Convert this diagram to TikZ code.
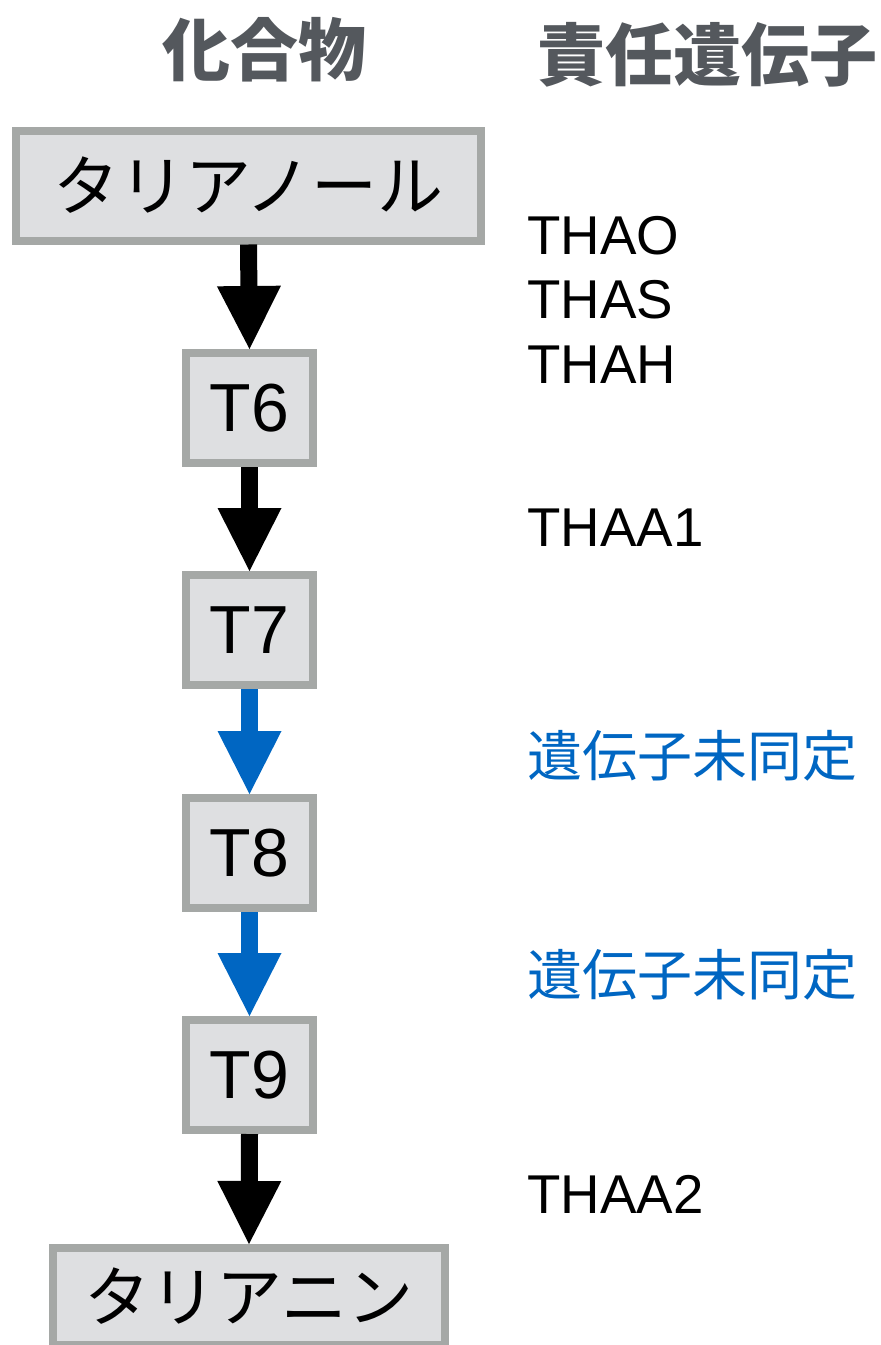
\documentclass[tikz,border=0pt]{standalone}
\usepackage{fontspec}
\setmainfont{Liberation Sans}
\newfontfamily\jp{Noto Sans CJK JP}
\usetikzlibrary{arrows.meta}
\definecolor{boxborder}{HTML}{A5A8A6}
\definecolor{boxfill}{HTML}{DEDFE1}
\definecolor{genblue}{HTML}{0066C2}
\definecolor{headgray}{HTML}{54585D}
\tikzset{
  compound/.style={draw=boxborder, fill=boxfill, line width=6pt, inner sep=0pt,
    minimum width=95.25pt, minimum height=82.5pt, font=\fontsize{51pt}{51pt}\selectfont},
  kanabox/.style={compound, font=\jp\fontsize{49.5pt}{49.5pt}\selectfont},
  header/.style={font=\jp\bfseries\fontsize{51pt}{51pt}\selectfont, text=headgray, inner sep=0pt},
  gene/.style={font=\fontsize{41pt}{41pt}\selectfont, anchor=base west, inner sep=0pt},
  unknown/.style={font=\jp\fontsize{41.25pt}{41.25pt}\selectfont, text=genblue, anchor=west, inner sep=0pt},
  known/.style={-{Triangle[width=48pt,length=47.25pt,line width=0pt]}, line width=12.75pt, draw=black},
  unknownarrow/.style={known, draw=genblue, color=genblue},
}
\begin{document}
\begin{tikzpicture}[x=0.75pt,y=-0.75pt]
\useasboundingbox (0,0) rectangle (881,1345);
% headers
\node[header] (hc) at (264,50) {化合物};
\node[header] (hg) at (707.5,55) {責任遺伝子};
% compounds
\node[kanabox, minimum width=348.75pt] (c0) at (248.5,185.5) {タリアノール};
\node[compound] (c1) at (249.5,408) {T6};
\node[compound] (c2) at (249.5,630) {T7};
\node[compound] (c3) at (249.5,853) {T8};
\node[compound] (c4) at (249.5,1075) {T9};
\node[kanabox, minimum width=294pt, minimum height=72.75pt] (c5) at (249,1296.5) {タリアニン};
% arrows
\draw[known] (c0.south) -- (c1.north);
\draw[known] (c1.south) -- (c2.north);
\draw[unknownarrow] (c2.south) -- (c3.north);
\draw[unknownarrow] (c3.south) -- (c4.north);
\draw[known] (c4.south) -- (c5.north);
% genes
\node[gene] (g1) at (527,254) {THAO};
\node[gene] (g2) at (527,318) {THAS};
\node[gene] (g3) at (527,383) {THAH};
\node[gene] (g4) at (527,546) {THAA1};
\node[unknown] (g5) at (527,756) {遺伝子未同定};
\node[unknown] (g6) at (527,975) {遺伝子未同定};
\node[gene] (g7) at (527,1213) {THAA2};
\end{tikzpicture}
\end{document}
